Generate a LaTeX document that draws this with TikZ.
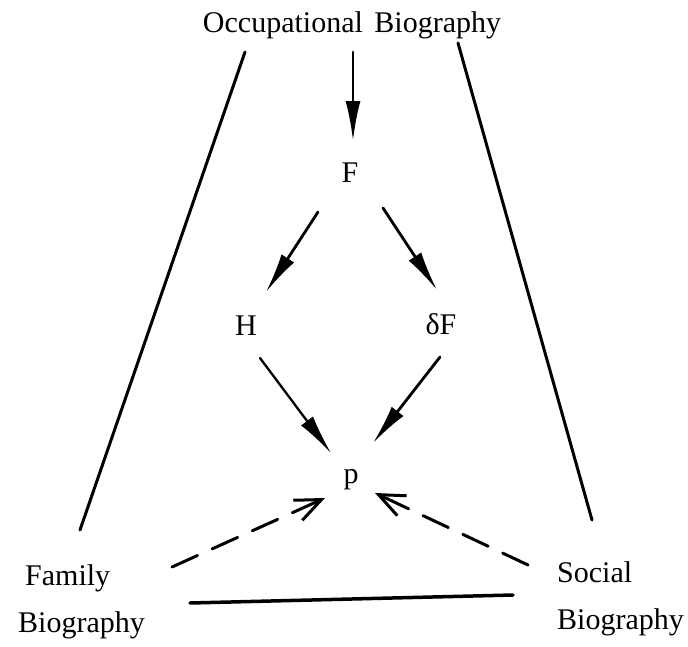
\documentclass[tikz,border=0pt]{standalone}
\usepackage{fontspec}
\setmainfont{Liberation Serif}
\usetikzlibrary{arrows.meta}
\begin{document}
\begin{tikzpicture}[x=1pt,y=-1pt,
  label/.style={inner sep=0pt,font=\fontsize{30}{47}\selectfont},
  link/.style={line width=3pt,line cap=round},
  push/.style={line width=2.8pt,line cap=round,-{Latex[length=40pt,width=15pt]}},
  weak/.style={line width=3pt,dash pattern=on 28pt off 16pt,line cap=round,
    -{Straight Barb[length=26pt,width=22pt,line width=3pt]}}]
\useasboundingbox (0,0) rectangle (688,646);

% labels (multi-line labels are anchored at the baseline of their last line)
\node[label,anchor=base] (occ) at (352,32) {Occupational\hspace{4pt} Biography};
\node[label,anchor=base] (F) at (350,182) {F};
\node[label,anchor=base] (H) at (246,335) {H};
\node[label,anchor=base] (dF) at (441,334) {δF};
\node[label,anchor=base] (p) at (351,483) {p};
\node[label,anchor=base west,align=left] (fam) at (18,632) {\hspace*{7pt}Family\\Biography};
\node[label,anchor=base west,align=left] (soc) at (557,629) {Social\\Biography};

% causal chain
\draw[push] ([shift={(1,20)}]occ.base) -- ([shift={(3,-41)}]F.base);
\draw[push] ([shift={(-32,30)}]F.base) -- ([shift={(20,-43)}]H.base);
\draw[push] ([shift={(33,26)}]F.base) -- ([shift={(-4,-44)}]dF.base);
\draw[push,line width=2.3pt] ([shift={(14,23)}]H.base) -- ([shift={(-20,-30)}]p.base);
\draw[push] ([shift={(-1,23)}]dF.base) -- ([shift={(22,-40)}]p.base);

% outer frame
\draw[link] ([shift={(-107,20)}]occ.base) -- ([shift={(62,-102)}]fam.base west);
\draw[link] ([shift={(106,11)}]occ.base) -- ([shift={(35,-109)}]soc.base west);
\draw[link,line width=3.5pt] ([shift={(172,-29)}]fam.base west) -- ([shift={(-44,-34)}]soc.base west);

% weaker influences
\draw[weak] ([shift={(154,-65)}]fam.base west) -- ([shift={(-26,15)}]p.base);
\draw[weak] ([shift={(-29,-64)}]soc.base west) -- ([shift={(24,10)}]p.base);
\end{tikzpicture}
\end{document}
